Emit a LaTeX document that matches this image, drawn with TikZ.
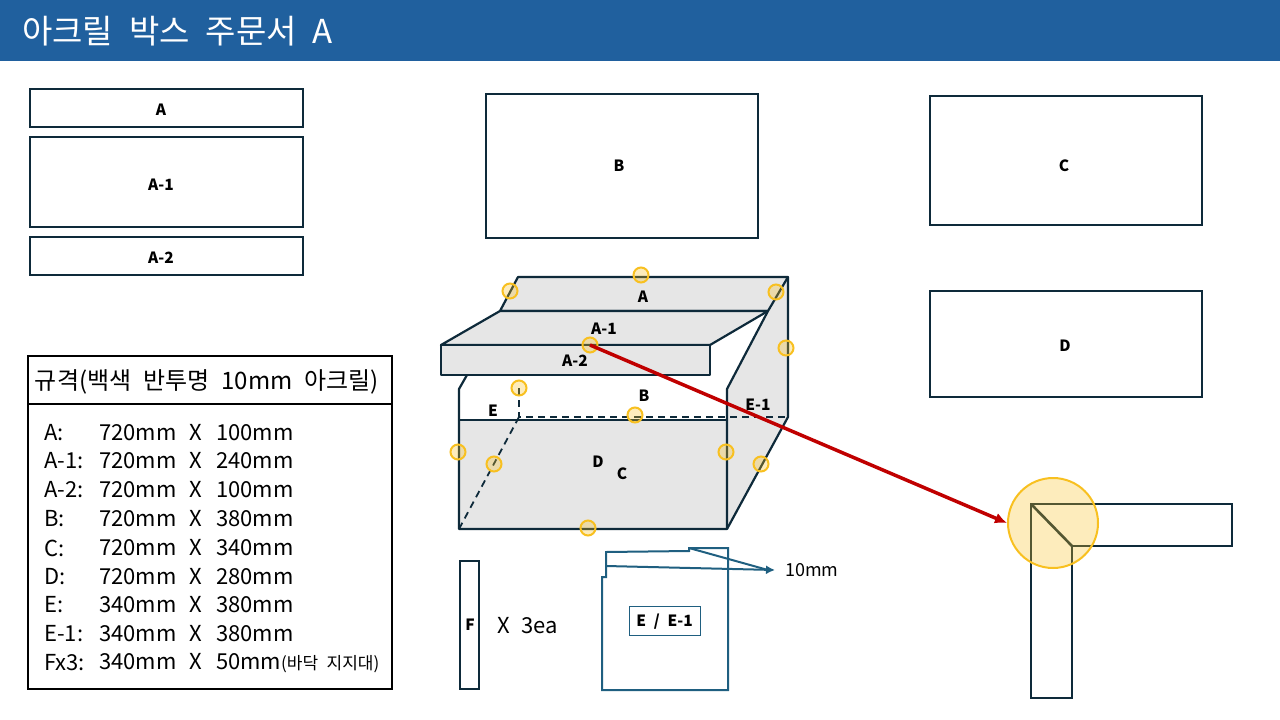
\documentclass[tikz,border=0pt]{standalone}
\usepackage{fontspec}
\setmainfont{Noto Sans CJK KR}
\usepackage{xcolor}
\definecolor{titleblue}{HTML}{20609E}
\definecolor{boxline}{HTML}{0E2A3A}
\definecolor{panelgray}{HTML}{E6E6E6}
\definecolor{markgold}{HTML}{F8C020}
\definecolor{arrowred}{HTML}{C00000}
\definecolor{noteline}{HTML}{1F5F80}
\usetikzlibrary{arrows.meta}
\newcommand{\widespaces}{\spaceskip=0.5em\relax}
\newcommand{\rowspaces}{\spaceskip=0.61em\relax}
\newcommand{\titlespaces}{\spaceskip=0.48em\relax}
\tikzset{
    panel/.style={draw=boxline, line width=1.8pt, fill=white, inner sep=0pt},
    partlabel/.style={font=\fontsize{15.5}{17}\selectfont\bfseries\widespaces, inner sep=0pt},
    specrow/.style={font=\fontsize{22}{24}\selectfont\rowspaces, anchor=west, inner sep=0pt},
    edgeline/.style={draw=boxline, line width=2.2pt, line join=round},
    hiddenline/.style={draw=boxline, line width=1.8pt, dash pattern=on 7pt off 5pt},
    jointmark/.style={circle, draw=markgold, line width=2pt, fill=markgold, fill opacity=0.3, minimum size=15pt, inner sep=0pt},
    noteline/.style={draw=noteline, line width=2pt}
}
\begin{document}
\begin{tikzpicture}[x=1pt, y=-1pt]
    \useasboundingbox (0,0) rectangle (1280,720);

    % Title bar
    \fill[titleblue] (0,0) rectangle (1280,61);
    \node[anchor=west, text=white, inner sep=0pt, font=\fontsize{33}{36}\selectfont\titlespaces] (title) at (22,31) {아크릴 박스 주문서 A};

    % Flat parts
    \node[panel, minimum width=273pt, minimum height=38pt] (partA) at (166.5,108) {};
    \node[panel, minimum width=273pt, minimum height=90pt] (partAone) at (166.5,182) {};
    \node[panel, minimum width=273pt, minimum height=38pt] (partAtwo) at (166.5,256) {};
    \node[panel, minimum width=272pt, minimum height=144pt] (partB) at (622,166) {};
    \node[panel, minimum width=272pt, minimum height=129pt] (partC) at (1066,160.5) {};
    \node[panel, minimum width=272pt, minimum height=106pt] (partD) at (1066,344) {};
    \node[partlabel] (nameA) at (161,110) {A};
    \node[partlabel] (nameAone) at (161,185) {A-1};
    \node[partlabel] (nameAtwo) at (161,258) {A-2};
    \node[partlabel] (nameB) at (619,166) {B};
    \node[partlabel] (nameC) at (1064,166) {C};
    \node[partlabel] (nameD) at (1065,346) {D};

    % Spec table
    \node[draw=black, line width=1.8pt, minimum width=364pt, minimum height=48pt, inner sep=0pt] (spechead) at (210,380) {};
    \node[font=\fontsize{24}{27}\selectfont\widespaces, inner sep=0pt] (specname) at (207,382) {규격(백색 반투명 10mm 아크릴)};
    \node[draw=black, line width=1.8pt, minimum width=364pt, minimum height=285pt, inner sep=0pt] (specbody) at (210,546.5) {};
    \foreach \y/\k/\v in {433/A:/720mm X 100mm, 461/A-1:/720mm X 240mm, 490/A-2:/720mm X 100mm,
                          519/B:/720mm X 380mm, 548/C:/720mm X 340mm, 577/D:/720mm X 280mm,
                          605/E:/340mm X 380mm, 634/E-1:/340mm X 380mm}{
        \node[specrow] (key\y) at (44,\y) {\k};
        \node[specrow] (val\y) at (99,\y) {\v};
    }
    \node[specrow] (key663) at (44,663) {Fx3:};
    \node[specrow] (val663) at (99,663) {340mm X 50mm{\fontsize{17}{18}\selectfont\widespaces(바닥 지지대)}};

    % Box
    \coordinate (backL) at (518,277);
    \coordinate (backR) at (788,277);
    \coordinate (midL) at (500,311);
    \coordinate (midR) at (768,311);
    \coordinate (lipL) at (441,345);
    \coordinate (lipR) at (710,345);
    \fill[panelgray] (727,389) -- (backR) -- (788,417) -- (727,529) -- cycle;
    \fill[panelgray] (459,420) rectangle (727,529);
    \draw[edgeline, fill=panelgray] (backL) -- (backR) -- (midR) -- (midL) -- cycle;
    \draw[edgeline, fill=panelgray] (midL) -- (midR) -- (lipR) -- (lipL) -- cycle;
    \draw[edgeline, fill=panelgray] (lipL) rectangle (710,375);
    \draw[edgeline] (467,375) -- (459,389) -- (459,529) -- (727,529) -- (788,417) -- (backR);
    \draw[edgeline] (midR) -- (727,389) -- (727,529);
    \draw[edgeline] (459,420) -- (727,420);
    \draw[hiddenline] (519,388) -- (519,417) -- (788,417);
    \draw[hiddenline] (519,417) -- (459,529);
    \node[partlabel] (boxA) at (643,297) {A};
    \node[partlabel] (boxAone) at (604,329) {A-1};
    \node[partlabel] (boxAtwo) at (575,361) {A-2};
    \node[partlabel] (boxB) at (644,396) {B};
    \node[partlabel] (boxC) at (622,474) {C};
    \node[partlabel] (boxD) at (598,462) {D};
    \node[partlabel] (boxE) at (493,411) {E};
    \node[partlabel] (boxEone) at (758,405) {E-1};

    % Joint detail
    \draw[draw=boxline, line width=1.8pt, line join=miter] (1031,504) -- (1232,504) -- (1232,546) -- (1072,546) -- (1072,698) -- (1031,698) -- cycle;
    \draw[edgeline, line width=2.6pt] (1031,504) -- (1072,546);
    \node[jointmark, minimum size=90pt] (bigmark) at (1053,523) {};

    % Marks
    \foreach \x/\y/\n in {641/275/a, 510/291/b, 776/292/c, 786/348/d, 519/388/f, 635/415/g,
                          458/452/h, 494/464/i, 726/452/j, 761/464/k, 588/528/l}
        \node[jointmark] (mark\n) at (\x,\y) {};
    \node[jointmark] (markjoint) at (590,345) {};
    \draw[arrowred, line width=3.5pt, -{Latex[length=12pt,width=11pt]}] (markjoint.center) -- (bigmark.west);

    % Side panel note
    \node[draw=boxline, line width=1.8pt, minimum width=19pt, minimum height=128pt, inner sep=0pt] (partF) at (469.5,625) {};
    \node[partlabel] (nameF) at (470,625) {F};
    \node[font=\fontsize{22}{24}\selectfont\widespaces, inner sep=0pt] (countF) at (527.5,626) {X 3ea};
    \draw[noteline, line join=miter] (602,577) -- (602,690) -- (728,690) -- (728,548) -- (689,548) -- (689,551) -- (606,552) -- (606,577) -- cycle;
    \node[draw=noteline, line width=1pt, fill=white, minimum width=71pt, minimum height=29pt, inner sep=0pt] (partE) at (664.5,620.5) {};
    \node[partlabel] (namePartE) at (664.5,621.5) {E / E-1};
    \coordinate (lipA) at (606,566);
    \coordinate (lipB) at (689,548);
    \node[font=\fontsize{18}{20}\selectfont, inner sep=0pt, anchor=west] (thick) at (785,570) {10mm};
    \coordinate (thicktip) at (775,570);
    \draw[noteline, -{Latex[length=9pt,width=9pt]}] (lipA) -- (thicktip);
    \draw[noteline] (lipB) -- (768,570);
\end{tikzpicture}
\end{document}
